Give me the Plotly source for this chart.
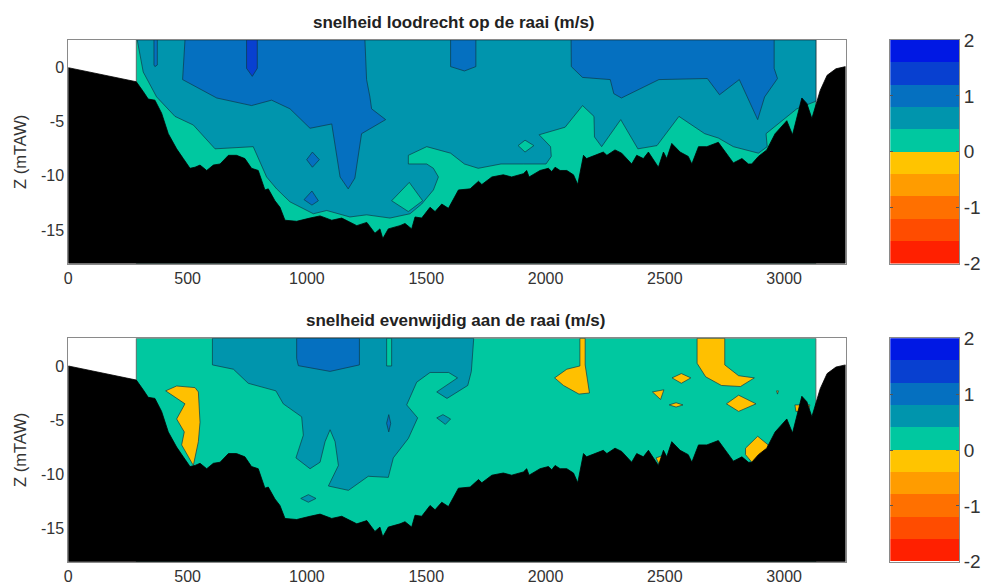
import plotly.graph_objects as go

X_MAX = 3257
Z_TOP = 2.56
Z_BOTTOM = -18.1
WATER_LEFT = 285
WATER_RIGHT = 3133

TITLE_TOP = "snelheid loodrecht op de raai (m/s)"
TITLE_BOTTOM = "snelheid evenwijdig aan de raai (m/s)"
Y_LABEL = "Z (mTAW)"
X_TICKS = [0, 500, 1000, 1500, 2000, 2500, 3000]
Z_TICKS = [0, -5, -10, -15]
Z_TICK_TEXT = ["0", "-5", "-10", "-15"]
BAR_TICKS = [2, 1, 0, -1, -2]
BAR_TICK_TEXT = ["2", "1", "0", "-1", "-2"]

BAND_LOW = [-2.0, -1.6, -1.2, -0.8, -0.4, 0.0, 0.4, 0.8, 1.2, 1.6]
BAND_HEIGHT = [0.4] * 10
BAND_COLOR = ["#ff2000", "#ff4c00", "#ff7000", "#ff9c00", "#ffc400",
              "#00c8a0", "#0095ad", "#0570c0", "#0840d0", "#0018e4"]
C_GREEN = "#00c8a0"
C_TEAL = "#0095ad"
C_BLUE = "#0570c0"
C_DEEP = "#0840d0"
C_YELLOW = "#ffc000"

bed_x = [0, 285, 314, 335, 363, 391, 419, 454, 482, 510, 531, 552, 580, 608, 636, 671, 705, 740, 768, 796, 824, 838,
         866, 887, 908, 957, 1013, 1055, 1104, 1146, 1209, 1251, 1285, 1306, 1318, 1341, 1390, 1411, 1439, 1453, 1481,
         1516, 1537, 1565, 1593, 1635, 1684, 1719, 1733, 1775, 1823, 1858, 1907, 1921, 1931, 1977, 2012, 2026, 2040,
         2061, 2089, 2117, 2135, 2159, 2172, 2207, 2242, 2257, 2291, 2319, 2361, 2382, 2410, 2431, 2473, 2494, 2508,
         2529, 2564, 2598, 2613, 2641, 2676, 2724, 2753, 2787, 2823, 2850, 2864, 2892, 2927, 2962, 3011, 3035, 3074,
         3095, 3116, 3134, 3151, 3180, 3217, 3257]
bed_z = [0, -1.3, -2.2, -2.9, -3.0, -4.2, -6.1, -7.5, -8.4, -9.3, -9.2, -9.0, -9.5, -9.0, -8.9, -8.1, -8.1, -8.4, -9.3,
         -9.5, -11.3, -11.2, -12.3, -12.9, -14.1, -14.2, -13.9, -13.7, -14.1, -13.9, -14.6, -14.3, -15.3, -14.9, -15.8,
         -14.9, -14.6, -14.4, -14.9, -13.8, -13.9, -12.9, -13.3, -12.6, -13.0, -11.3, -11.2, -10.5, -10.8, -10.1, -9.9,
         -10.1, -9.8, -9.5, -10.1, -9.5, -9.3, -9.6, -9.2, -9.5, -9.5, -9.9, -10.8, -8.1, -8.4, -8.1, -7.8, -8.1, -7.6,
         -7.9, -8.9, -8.1, -8.4, -7.8, -9.2, -7.8, -8.4, -7.0, -7.8, -8.2, -8.9, -7.3, -7.3, -6.9, -7.8, -8.8, -8.4,
         -8.9, -8.9, -8.2, -7.6, -6.1, -4.9, -6.2, -2.8, -3.3, -4.7, -3.3, -2.1, -0.7, -0.1, 0.1]

# Upper panel: velocity bands
t_teal_x = [289, 314, 370, 447, 524, 615, 775, 831, 873, 929, 1027, 1083, 1180, 1250, 1348, 1432, 1481, 1530, 1551,
            1530, 1502, 1425, 1425, 1502, 1602, 1660, 1718, 1813, 1907, 2002, 2024, 2021, 1973, 2082, 2155, 2203,
            2205, 2235, 2315, 2387, 2467, 2559, 2667, 2724, 2787, 2892, 2929, 2924, 3053, 3133, 3133, 289]
t_teal_z = [2.56, -0.4, -2.7, -4.5, -5.3, -7.5, -7.3, -10.1, -11.2, -12.4, -13.5, -13.2, -13.8, -13.6, -13.9, -13.5,
            -12.6, -11.3, -10.1, -9.3, -8.9, -8.9, -8.1, -7.3, -7.9, -8.9, -9.3, -8.9, -8.9, -8.9, -8.2, -7.3, -6.2,
            -5.5, -3.5, -4.5, -6.4, -7.3, -4.8, -7.5, -7.2, -4.5, -6.1, -6.5, -7.3, -7.9, -7.3, -6.1, -3.8, -3.1, 2.56,
            2.56]
t_isle1_x = [1885, 1914, 1951, 1914]
t_isle1_z = [-7.2, -6.7, -7.2, -7.8]
t_isle2_x = [1355, 1429, 1485, 1425]
t_isle2_z = [-12.3, -10.6, -12.3, -13.3]
t_sliver_x = [359, 373, 373, 363, 359]
t_sliver_z = [2.56, 2.56, 0.25, 0.1, 0.25]
t_blue_x = [489, 479, 538, 622, 768, 852, 929, 1013, 1104, 1132, 1139, 1173, 1201, 1229, 1330, 1271, 1264, 1250, 1243]
t_blue_z = [2.56, -1.1, -1.8, -2.8, -3.5, -3.0, -3.8, -5.6, -5.2, -9.2, -10.1, -11.2, -10.2, -6.1, -4.8, -3.8, -2.7,
            -1.1, 2.56]
t_dia1_x = [999, 1023, 1052, 1023]
t_dia1_z = [-8.5, -7.8, -8.5, -9.2]
t_dia2_x = [988, 1021, 1048, 1021]
t_dia2_z = [-12.2, -11.4, -12.3, -12.7]
t_patch_x = [1602, 1708, 1708, 1660, 1602]
t_patch_z = [2.56, 2.56, 0.1, -0.3, 0.1]
t_right_x = [2107, 2108, 2155, 2271, 2286, 2318, 2475, 2678, 2729, 2812, 2889, 2918, 2972, 2958, 2958]
t_right_z = [2.56, 0.1, -0.9, -1.1, -2.4, -2.8, -1.1, -1.0, -2.5, -1.1, -4.8, -2.7, -1.0, -0.06, 2.56]
t_deep_x = [747, 792, 792, 771, 747]
t_deep_z = [2.56, 2.56, -0.06, -0.8, -0.06]

# Lower panel: velocity bands
b_teal_x = [604, 604, 692, 754, 870, 901, 978, 985, 954, 1013, 1055, 1076, 1097, 1118, 1132, 1090, 1174, 1257, 1341,
            1362, 1425, 1464, 1418, 1460, 1516, 1594, 1631, 1558, 1544, 1587, 1674, 1689, 1699]
b_teal_z = [2.56, 0.1, -0.3, -1.6, -2.3, -3.5, -4.7, -6.4, -8.5, -9.5, -8.9, -7.0, -5.9, -7.0, -9.2, -11.1, -11.5,
            -10.2, -10.3, -8.5, -6.7, -4.8, -3.6, -1.5, -0.6, -0.6, -1.1, -2.2, -2.4, -3.0, -1.8, -0.5, 2.56]
b_slit_x = [1334, 1355, 1355, 1334]
b_slit_z = [2.56, 2.56, 0, 0]
b_small1_x = [1544, 1570, 1602, 1580]
b_small1_z = [-4.8, -4.5, -4.9, -5.4]
b_small2_x = [974, 1006, 1038, 1006]
b_small2_z = [-12.25, -11.9, -12.25, -12.6]
b_blue_x = [957, 1220, 1220, 1097, 964, 957]
b_blue_z = [2.56, 2.56, 0.1, -0.5, 0.03, 0.7]
b_tiny_x = [1334, 1343, 1351, 1343]
b_tiny_z = [-5.3, -4.5, -5.3, -6.1]
y_a_x = [408, 454, 531, 545, 552, 545, 524, 475, 486, 454, 489]
y_a_z = [-2.3, -1.85, -2.0, -2.4, -5.2, -7.0, -9.2, -7.3, -6.1, -4.9, -3.5]
y_b_x = [2144, 2166, 2166, 2184, 2140, 2075, 2038, 2089, 2144]
y_b_z = [2.56, 2.56, 0.1, -2.5, -2.6, -1.8, -1.1, -0.3, 0]
y_c_x = [2635, 2751, 2751, 2809, 2875, 2817, 2737, 2671, 2635]
y_c_z = [2.56, 2.56, 0.1, -0.9, -1.1, -1.9, -1.8, -1.0, 0.25]
y_d_x = [2530, 2569, 2609, 2569]
y_d_z = [-1.1, -0.7, -1.1, -1.6]
y_e_x = [2448, 2496, 2482, 2467]
y_e_z = [-2.4, -2.2, -3.1, -2.8]
y_f_x = [2518, 2547, 2576, 2547]
y_f_z = [-3.6, -3.4, -3.6, -3.8]
y_g_x = [2758, 2809, 2882, 2809]
y_g_z = [-3.5, -2.7, -3.5, -4.2]
y_h_x = [2838, 2889, 2933, 2926, 2868, 2838]
y_h_z = [-7.6, -6.5, -7.3, -8.1, -9.0, -8.2]
y_i_x = [3045, 3108, 3100, 3049]
y_i_z = [-3.6, -3.6, -4.2, -4.2]
y_j_x = [2463, 2489, 2478]
y_j_z = [-8.5, -8.3, -9.2]
y_k_x = [2968, 2976, 2972]
y_k_z = [-2.3, -2.3, -2.6]

TOP_SHAPES = [(t_teal_x, t_teal_z, C_TEAL), (t_isle1_x, t_isle1_z, C_GREEN), (t_isle2_x, t_isle2_z, C_GREEN),
              (t_sliver_x, t_sliver_z, C_BLUE), (t_blue_x, t_blue_z, C_BLUE), (t_dia1_x, t_dia1_z, C_BLUE),
              (t_dia2_x, t_dia2_z, C_BLUE), (t_patch_x, t_patch_z, C_BLUE), (t_right_x, t_right_z, C_BLUE),
              (t_deep_x, t_deep_z, C_DEEP)]
BOTTOM_SHAPES = [(b_teal_x, b_teal_z, C_TEAL), (b_slit_x, b_slit_z, C_GREEN), (b_small1_x, b_small1_z, C_TEAL),
                 (b_small2_x, b_small2_z, C_TEAL), (b_blue_x, b_blue_z, C_BLUE), (b_tiny_x, b_tiny_z, C_BLUE),
                 (y_a_x, y_a_z, C_YELLOW), (y_b_x, y_b_z, C_YELLOW), (y_c_x, y_c_z, C_YELLOW),
                 (y_d_x, y_d_z, C_YELLOW), (y_e_x, y_e_z, C_YELLOW), (y_f_x, y_f_z, C_YELLOW),
                 (y_g_x, y_g_z, C_YELLOW), (y_h_x, y_h_z, C_YELLOW), (y_i_x, y_i_z, C_YELLOW),
                 (y_j_x, y_j_z, C_YELLOW), (y_k_x, y_k_z, C_YELLOW)]

W, H = 984, 584
FONT = "Liberation Sans"
INK = "#333333"
FRAME = "#8a8a8a"
EDGE = "rgba(15,55,70,0.85)"

fig = go.Figure()


def poly(xs, zs, color, suffix, edge=EDGE):
    fig.add_trace(go.Scatter(x=list(xs) + [xs[0]], y=list(zs) + [zs[0]], mode="lines", fill="toself",
                             fillcolor=color, line=dict(color=edge, width=0.8), hoverinfo="skip",
                             showlegend=False, xaxis="x" + suffix, yaxis="y" + suffix))


def panel(shapes, suffix):
    poly([WATER_LEFT, WATER_RIGHT, WATER_RIGHT, WATER_LEFT], [Z_TOP, Z_TOP, Z_BOTTOM, Z_BOTTOM], C_GREEN, suffix,
         edge="#555555")
    for xs, zs, color in shapes:
        poly(xs, zs, color, suffix)
    poly(bed_x + [X_MAX, 0], bed_z + [Z_BOTTOM, Z_BOTTOM], "#000000", suffix, edge="#000000")


panel(TOP_SHAPES, "")
panel(BOTTOM_SHAPES, "2")

for suffix in ("3", "4"):
    fig.add_trace(go.Bar(x=[0] * 10, y=BAND_HEIGHT, base=BAND_LOW, width=1, marker=dict(color=BAND_COLOR, line_width=0),
                         hoverinfo="skip", showlegend=False, xaxis="x" + suffix, yaxis="y" + suffix))


def dom(a, b, size):
    return [a / size, b / size]


def vdom(top, bottom):
    return [1 - bottom / H, 1 - top / H]


axis_common = dict(showgrid=False, zeroline=False, showline=True, linecolor=FRAME, linewidth=1, mirror=True,
                   automargin=False, tickfont=dict(family=FONT, size=16, color=INK), ticks="")
pdom = dom(68.3, 845.5, W)
cdom = dom(890.3, 959, W)
layout = dict(
    template="none",
    width=W, height=H, margin=dict(l=0, r=0, t=0, b=0, pad=0), paper_bgcolor="white", plot_bgcolor="white",
    barmode="overlay", bargap=0, showlegend=False,
    xaxis=dict(domain=pdom, range=[0, X_MAX], tickvals=X_TICKS, anchor="y", **axis_common),
    yaxis=dict(domain=vdom(40, 263.5), range=[Z_BOTTOM, Z_TOP], tickvals=Z_TICKS, ticktext=Z_TICK_TEXT, anchor="x",
               **axis_common),
    xaxis2=dict(domain=pdom, range=[0, X_MAX], tickvals=X_TICKS, anchor="y2", **axis_common),
    yaxis2=dict(domain=vdom(338.3, 561.7), range=[Z_BOTTOM, Z_TOP], tickvals=Z_TICKS, ticktext=Z_TICK_TEXT,
                anchor="x2", **axis_common),
)
bar_axis = dict(axis_common)
bar_axis["tickfont"] = dict(family=FONT, size=19, color=INK)
bar_axis["ticks"] = "inside"
bar_axis["ticklen"] = 3
bar_axis["tickcolor"] = "#555555"
bar_axis["mirror"] = "ticks"
for n, (top, bottom) in (("3", (40, 263.5)), ("4", (338.3, 561.7))):
    layout["xaxis" + n] = dict(domain=cdom, range=[-0.5, 0.5], showticklabels=False, anchor="y" + n, showgrid=False,
                               zeroline=False, showline=True, linecolor=FRAME, mirror=True, ticks="", automargin=False)
    layout["yaxis" + n] = dict(domain=vdom(top, bottom), range=[-2, 2], tickvals=BAR_TICKS, ticktext=BAR_TICK_TEXT,
                               side="right", anchor="x" + n, **bar_axis)

notes = []
for text, px, py, rot, size, bold in ((TITLE_TOP, 454, 22, 0, 17, True), (TITLE_BOTTOM, 455, 320, 0, 17, True),
                                      (Y_LABEL, 20, 152, -90, 16.5, False), (Y_LABEL, 20, 450, -90, 16.5, False)):
    notes.append(dict(text="<b>%s</b>" % text if bold else text, xref="paper", yref="paper", x=px / W, y=1 - py / H,
                      showarrow=False, textangle=rot, xanchor="center", yanchor="middle",
                      font=dict(family=FONT, size=size, color="#222222" if bold else INK)))
layout["annotations"] = notes
fig.update_layout(**layout)
fig.write_html("out.html", config={"displayModeBar": False}, post_script="document.body.style.margin='0';")
